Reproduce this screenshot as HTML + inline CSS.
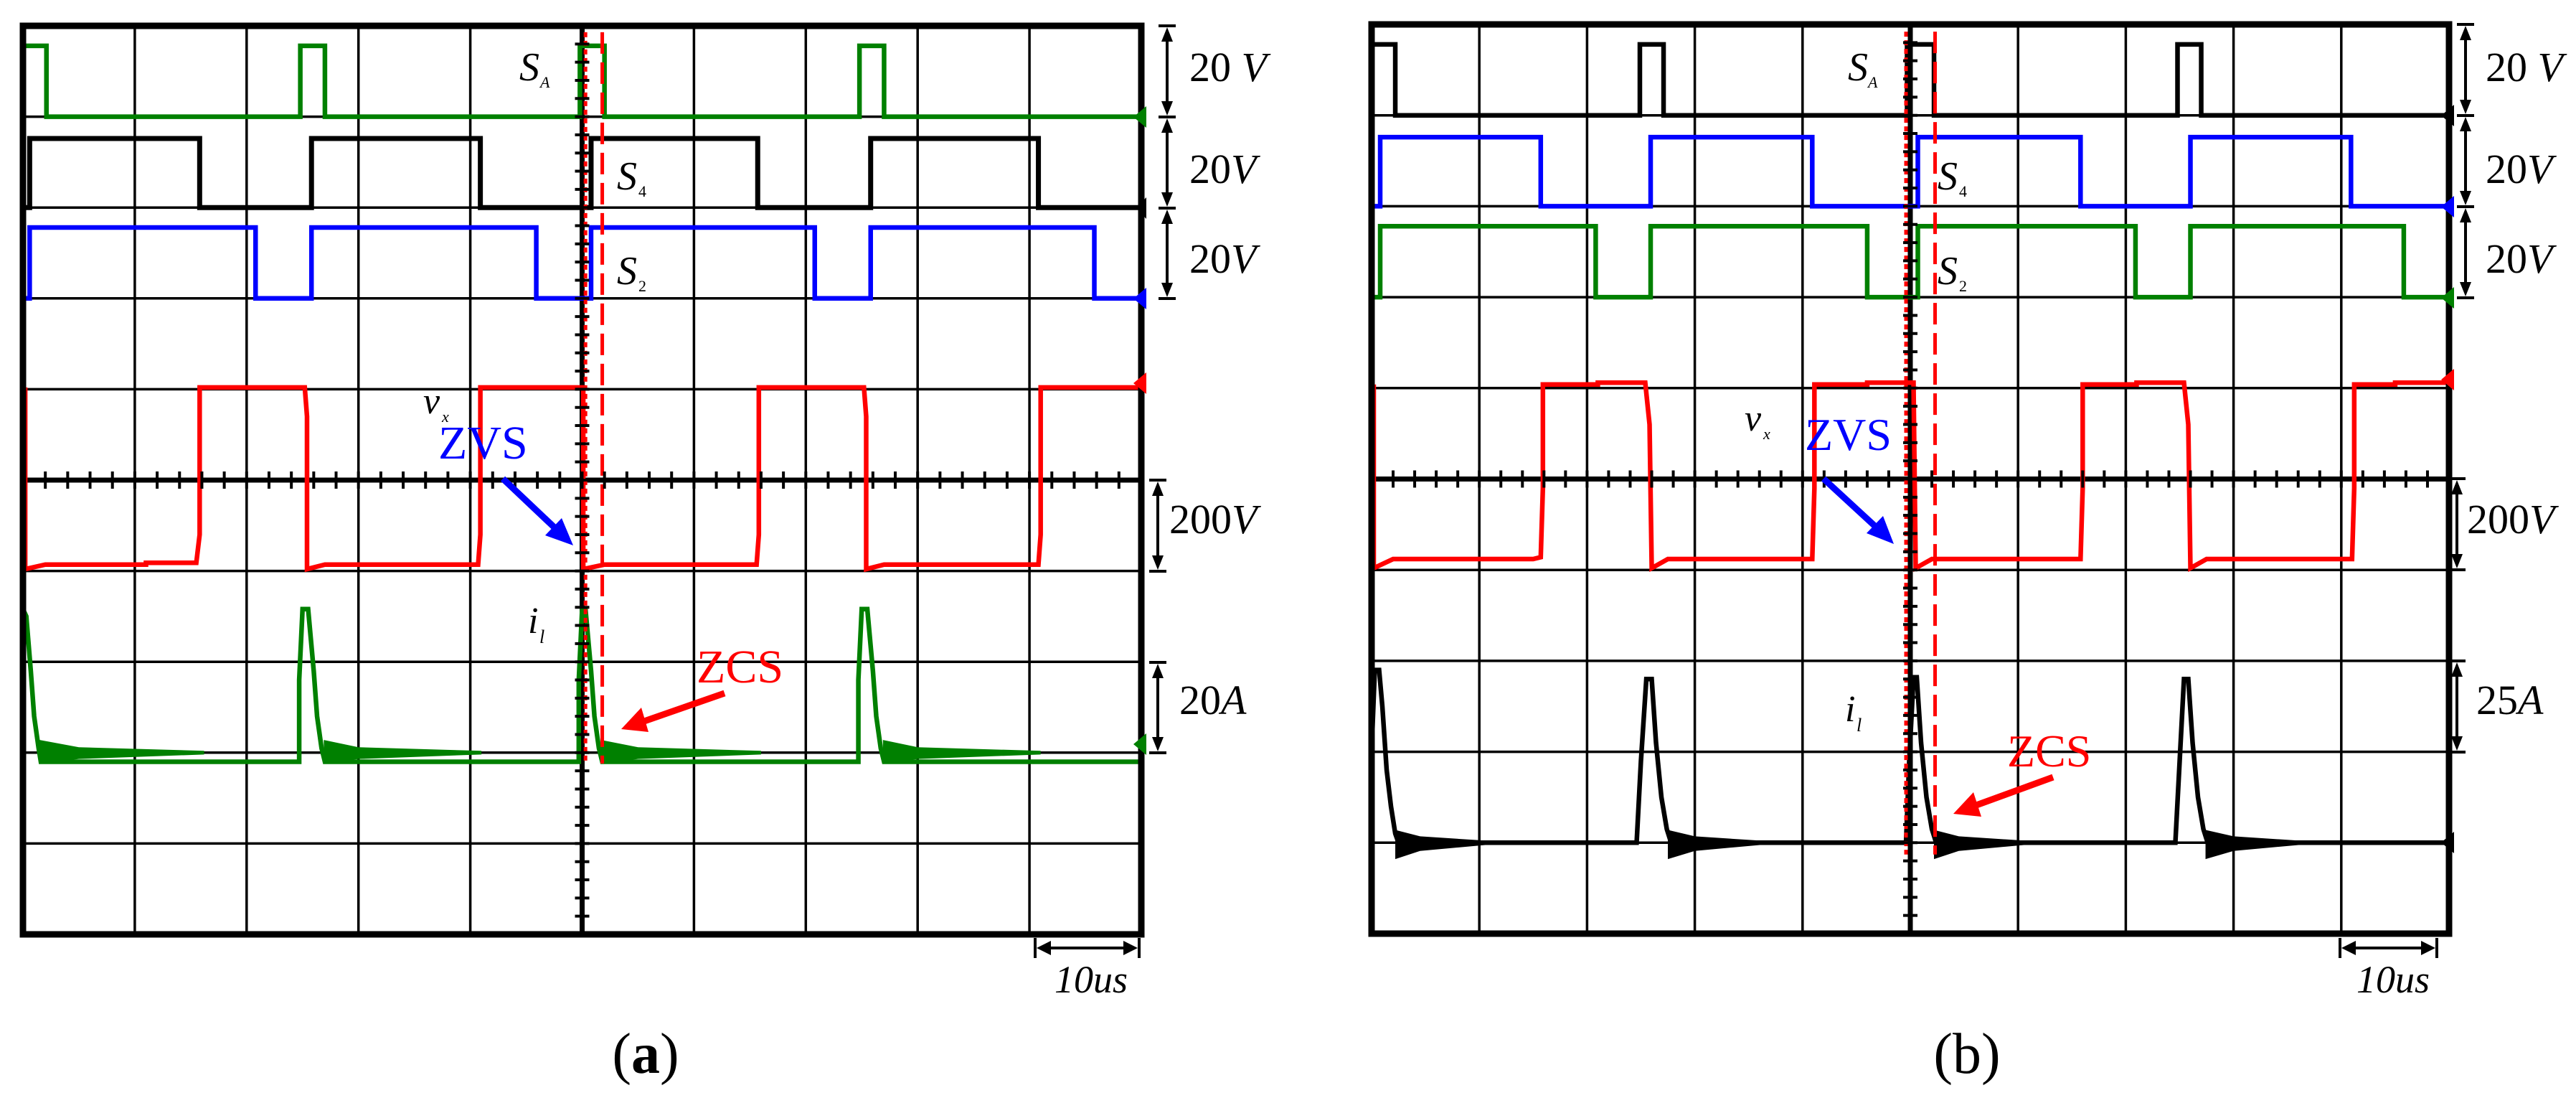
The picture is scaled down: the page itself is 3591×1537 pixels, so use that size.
<!DOCTYPE html>
<html><head><meta charset="utf-8"><style>
html,body{margin:0;padding:0;background:#fff;}
svg{display:block;font-family:"Liberation Serif","DejaVu Serif",serif;}
text{font-family:"Liberation Serif","DejaVu Serif",serif;}
</style></head><body>
<svg width="3591" height="1537" viewBox="0 0 3591 1537" xmlns="http://www.w3.org/2000/svg" font-family="Liberation Serif, DejaVu Serif, serif">

<!-- ================= PANEL A ================= -->
<g transform="translate(32,36) scale(155.9,126.6)" fill="none">
  <path vector-effect="non-scaling-stroke" stroke="#000" stroke-width="3.5" d="M1,0V10M2,0V10M3,0V10M4,0V10M6,0V10M7,0V10M8,0V10M9,0V10M0,1H10M0,2H10M0,3H10M0,4H10M0,6H10M0,7H10M0,8H10M0,9H10"/>
  <path vector-effect="non-scaling-stroke" stroke="#000" stroke-width="7" d="M5,0V10M0,5H10"/>
  <path vector-effect="non-scaling-stroke" stroke="#008000" stroke-width="6.5" d="M0,1V0.22H0.21V1H2.48V0.22H2.70V1H4.98V0.22H5.2V1H7.48V0.22H7.70V1H10"/>
  <path vector-effect="non-scaling-stroke" stroke="#000" stroke-width="7" d="M0,2H0.06V1.24H1.58V2H2.58V1.24H4.09V2H5.08V1.24H6.57V2H7.58V1.24H9.08V2H10"/>
  <path vector-effect="non-scaling-stroke" stroke="#0000ff" stroke-width="6.5" d="M0,3H0.06V2.22H2.08V3H2.58V2.22H4.59V3H5.08V2.22H7.08V3H7.58V2.22H9.58V3H10"/>
  <path vector-effect="non-scaling-stroke" stroke="#ff0000" stroke-width="6.5" d="M0.02,3.98V5.98L0.2,5.93H1.1V5.91H1.55L1.58,5.6V3.98H2.52L2.54,4.3V5.98L2.7,5.93H4.07L4.09,5.6V3.98H5.01V5.98L5.2,5.93H6.56L6.58,5.6V3.98H7.52L7.54,4.3V5.98L7.7,5.93H9.08L9.1,5.6V3.98H10"/>
  <path vector-effect="non-scaling-stroke" stroke="#008000" stroke-width="6.5" d="M0,7V6.42L0.03,6.5L0.07,7.1L0.1,7.6L0.14,7.95L0.16,8.1H2.47V7.2L2.5,6.42H2.55L2.6,7.1L2.63,7.6L2.67,7.95L2.7,8.1H4.97V7.2L5.0,6.42H5.03L5.08,7.1L5.11,7.6L5.15,7.95L5.18,8.1H7.47V7.2L7.5,6.42H7.55L7.6,7.1L7.63,7.6L7.67,7.95L7.7,8.1H10"/>
  <g fill="#008000">
    <polygon points="0.15,7.86 0.5,7.94 1.62,7.98 1.62,8.02 0.5,8.07 0.15,8.12"/>
    <polygon points="2.69,7.86 3.0,7.94 4.1,7.98 4.1,8.02 3.0,8.07 2.69,8.12"/>
    <polygon points="5.17,7.86 5.5,7.94 6.6,7.98 6.6,8.02 5.5,8.07 5.17,8.12"/>
    <polygon points="7.69,7.86 8.0,7.94 9.1,7.98 9.1,8.02 8.0,8.07 7.69,8.12"/>
  </g>
  <path vector-effect="non-scaling-stroke" stroke="#ff0000" stroke-width="5" stroke-dasharray="7 5" d="M5.03,0.07V8.12"/>
  <path vector-effect="non-scaling-stroke" stroke="#ff0000" stroke-width="5" stroke-dasharray="30 12" d="M5.18,0.07V8.12"/>
  <rect x="0" y="0" width="10" height="10" vector-effect="non-scaling-stroke" stroke="#000" stroke-width="9"/>
</g>
<line x1="32" y1="669" x2="1591" y2="669" stroke="#000" stroke-width="24" stroke-dasharray="4 27.18" stroke-dashoffset="2"/>
<line x1="811.5" y1="36" x2="811.5" y2="1302" stroke="#000" stroke-width="20" stroke-dasharray="4 21.32" stroke-dashoffset="2"/>
<g>
<polygon points="1598,148 1598,178 1580,163" fill="#008000"/>
<polygon points="1598,275 1598,305 1584,290" fill="#000"/>
<polygon points="1598,401 1598,431 1580,416" fill="#0000ff"/>
<polygon points="1598,519 1598,549 1580,534" fill="#ff0000"/>
<polygon points="1598,1022 1598,1052 1580,1037" fill="#008000"/>
</g>
<g font-style="italic" fill="#000">
<text x="724" y="112" font-size="56">S</text><text x="753" y="122" font-size="22">A</text>
<text x="860" y="264" font-size="56">S</text><text x="890" y="274" font-size="22" font-style="normal">4</text>
<text x="860" y="396" font-size="56">S</text><text x="890" y="406" font-size="22" font-style="normal">2</text>
<text x="590" y="576" font-size="52">v</text><text x="616" y="588" font-size="22">x</text>
<text x="736" y="882" font-size="52">i</text><text x="752" y="896" font-size="26">l</text>
</g>
<text x="611" y="639" font-size="66" fill="#0000ff">ZVS</text>
<text x="971" y="951" font-size="66" fill="#ff0000">ZCS</text>
<line x1="701" y1="667" x2="775" y2="737" stroke="#0000ff" stroke-width="9"/>
<polygon points="799,760 760,746 783,722" fill="#0000ff"/>
<line x1="1010" y1="966" x2="898" y2="1005" stroke="#ff0000" stroke-width="9"/>
<polygon points="866,1016 894,986 904,1020" fill="#ff0000"/>
<g stroke="#000" stroke-width="4">
<line x1="1627" y1="44" x2="1627" y2="155"/><line x1="1627" y1="171" x2="1627" y2="282"/><line x1="1627" y1="298" x2="1627" y2="408"/>
<line x1="1614" y1="677" x2="1614" y2="788"/><line x1="1614" y1="931" x2="1614" y2="1041"/>
<line x1="1615" y1="36" x2="1639" y2="36"/><line x1="1615" y1="163" x2="1639" y2="163"/><line x1="1615" y1="290" x2="1639" y2="290"/><line x1="1615" y1="416" x2="1639" y2="416"/>
<line x1="1602" y1="669" x2="1626" y2="669"/><line x1="1602" y1="796" x2="1626" y2="796"/><line x1="1602" y1="923" x2="1626" y2="923"/><line x1="1602" y1="1049" x2="1626" y2="1049"/>
</g>
<g fill="#000">
<polygon points="1627,38 1619,58 1635,58"/><polygon points="1627,161 1619,141 1635,141"/>
<polygon points="1627,165 1619,185 1635,185"/><polygon points="1627,288 1619,268 1635,268"/>
<polygon points="1627,292 1619,312 1635,312"/><polygon points="1627,414 1619,394 1635,394"/>
<polygon points="1614,671 1606,691 1622,691"/><polygon points="1614,794 1606,774 1622,774"/>
<polygon points="1614,925 1606,945 1622,945"/><polygon points="1614,1047 1606,1027 1622,1027"/>
</g>
<g font-size="58" fill="#000">
<text x="1658" y="113">20 <tspan font-style="italic">V</tspan></text>
<text x="1658" y="255">20<tspan font-style="italic">V</tspan></text>
<text x="1658" y="380">20<tspan font-style="italic">V</tspan></text>
<text x="1630" y="743">200<tspan font-style="italic">V</tspan></text>
<text x="1644" y="995">20<tspan font-style="italic">A</tspan></text>
</g>
<g stroke="#000" stroke-width="4">
<line x1="1450" y1="1321" x2="1581" y2="1321"/>
<line x1="1443" y1="1307" x2="1443" y2="1335"/><line x1="1588" y1="1307" x2="1588" y2="1335"/>
</g>
<polygon points="1445,1321 1465,1311 1465,1331" fill="#000"/>
<polygon points="1586,1321 1566,1311 1566,1331" fill="#000"/>
<text x="1470" y="1383" font-size="54" font-style="italic">10us</text>
<text x="900" y="1495" font-size="80" text-anchor="middle">(<tspan font-weight="bold">a</tspan>)</text>

<!-- ================= PANEL B ================= -->
<g transform="translate(1912,34) scale(150.2,126.7)" fill="none">
  <path vector-effect="non-scaling-stroke" stroke="#000" stroke-width="3.5" d="M1,0V10M2,0V10M3,0V10M4,0V10M6,0V10M7,0V10M8,0V10M9,0V10M0,1H10M0,2H10M0,3H10M0,4H10M0,6H10M0,7H10M0,8H10M0,9H10"/>
  <path vector-effect="non-scaling-stroke" stroke="#000" stroke-width="7" d="M5,0V10M0,5H10"/>
  <path vector-effect="non-scaling-stroke" stroke="#000" stroke-width="6.5" d="M0,1V0.22H0.22V1H2.49V0.22H2.71V1H4.97V0.22H5.22V1H7.48V0.22H7.70V1H10"/>
  <path vector-effect="non-scaling-stroke" stroke="#0000ff" stroke-width="6.5" d="M0,2H0.08V1.24H1.57V2H2.59V1.24H4.09V2H5.07V1.24H6.58V2H7.6V1.24H9.09V2H10"/>
  <path vector-effect="non-scaling-stroke" stroke="#008000" stroke-width="6.5" d="M0,3H0.08V2.22H2.08V3H2.59V2.22H4.6V3H5.07V2.22H7.09V3H7.6V2.22H9.58V3H10"/>
  <path vector-effect="non-scaling-stroke" stroke="#ff0000" stroke-width="6.5" d="M0.02,3.96V5.98L0.2,5.88H1.5L1.57,5.86L1.59,5.1V3.96H2.1V3.94H2.54L2.58,4.4L2.6,5.98L2.75,5.88H4.09L4.11,5.1V3.96H4.6V3.94H5.03L5.05,5.98L5.2,5.88H6.58L6.6,5.1V3.96H7.1V3.94H7.54L7.58,4.4L7.6,5.98L7.75,5.88H9.1L9.12,5.1V3.96H9.5V3.94H10"/>
  <path vector-effect="non-scaling-stroke" stroke="#000" stroke-width="6.5" d="M0,8.0L0.03,7.1H0.07L0.1,7.5L0.14,8.2L0.18,8.6L0.22,8.9L0.25,9.0H2.46L2.5,8.1L2.55,7.2H2.6L2.64,7.9L2.69,8.5L2.74,8.85L2.78,9.0H4.96L4.99,8.1L5.03,7.18H5.06L5.1,7.9L5.15,8.5L5.2,8.85L5.24,9.0H7.46L7.5,8.1L7.54,7.2H7.58L7.62,7.9L7.67,8.5L7.72,8.85L7.76,9.0H10"/>
  <g fill="#000">
    <polygon points="0.22,8.86 0.45,8.93 1.1,8.98 1.1,9.02 0.45,9.09 0.22,9.18"/>
    <polygon points="2.75,8.86 3.0,8.93 3.65,8.98 3.65,9.02 3.0,9.09 2.75,9.18"/>
    <polygon points="5.22,8.86 5.45,8.93 6.1,8.98 6.1,9.02 5.45,9.09 5.22,9.18"/>
    <polygon points="7.74,8.86 8.0,8.93 8.65,8.98 8.65,9.02 8.0,9.09 7.74,9.18"/>
  </g>
  <path vector-effect="non-scaling-stroke" stroke="#ff0000" stroke-width="5" stroke-dasharray="7 5" d="M4.96,0.08V9.13"/>
  <path vector-effect="non-scaling-stroke" stroke="#ff0000" stroke-width="5" stroke-dasharray="30 12" d="M5.23,0.08V9.13"/>
  <rect x="0" y="0" width="10" height="10" vector-effect="non-scaling-stroke" stroke="#000" stroke-width="9"/>
</g>
<line x1="1912" y1="667.5" x2="3414" y2="667.5" stroke="#000" stroke-width="24" stroke-dasharray="4 26.04" stroke-dashoffset="2"/>
<line x1="2663" y1="34" x2="2663" y2="1301" stroke="#000" stroke-width="20" stroke-dasharray="4 21.34" stroke-dashoffset="2"/>
<g>
<polygon points="3421,146 3421,176 3403,161" fill="#000"/>
<polygon points="3421,273 3421,303 3403,288" fill="#0000ff"/>
<polygon points="3421,400 3421,430 3403,415" fill="#008000"/>
<polygon points="3421,514 3421,544 3403,529" fill="#ff0000"/>
<polygon points="3421,1159 3421,1189 3403,1174" fill="#000"/>
</g>
<g font-style="italic" fill="#000">
<text x="2576" y="112" font-size="56">S</text><text x="2604" y="122" font-size="22">A</text>
<text x="2701" y="264" font-size="56">S</text><text x="2731" y="274" font-size="22" font-style="normal">4</text>
<text x="2701" y="396" font-size="56">S</text><text x="2731" y="406" font-size="22" font-style="normal">2</text>
<text x="2432" y="600" font-size="52">v</text><text x="2458" y="612" font-size="22">x</text>
<text x="2572" y="1005" font-size="52">i</text><text x="2588" y="1019" font-size="26">l</text>
</g>
<text x="2516" y="627" font-size="64" fill="#0000ff">ZVS</text>
<text x="2798" y="1068" font-size="64" fill="#ff0000">ZCS</text>
<line x1="2542" y1="667" x2="2618" y2="737" stroke="#0000ff" stroke-width="9"/>
<polygon points="2640,758 2602,743 2625,719" fill="#0000ff"/>
<line x1="2862" y1="1083" x2="2755" y2="1122" stroke="#ff0000" stroke-width="9"/>
<polygon points="2723,1134 2751,1104 2762,1138" fill="#ff0000"/>
<g stroke="#000" stroke-width="4">
<line x1="3437" y1="42" x2="3437" y2="153"/><line x1="3437" y1="169" x2="3437" y2="280"/><line x1="3437" y1="296" x2="3437" y2="407"/>
<line x1="3425" y1="675" x2="3425" y2="786"/><line x1="3425" y1="929" x2="3425" y2="1040"/>
<line x1="3425" y1="34" x2="3449" y2="34"/><line x1="3425" y1="161" x2="3449" y2="161"/><line x1="3425" y1="288" x2="3449" y2="288"/><line x1="3425" y1="415" x2="3449" y2="415"/>
<line x1="3413" y1="667" x2="3437" y2="667"/><line x1="3413" y1="794" x2="3437" y2="794"/><line x1="3413" y1="921" x2="3437" y2="921"/><line x1="3413" y1="1048" x2="3437" y2="1048"/>
</g>
<g fill="#000">
<polygon points="3437,36 3429,56 3445,56"/><polygon points="3437,159 3429,139 3445,139"/>
<polygon points="3437,163 3429,183 3445,183"/><polygon points="3437,286 3429,266 3445,266"/>
<polygon points="3437,290 3429,310 3445,310"/><polygon points="3437,413 3429,393 3445,393"/>
<polygon points="3425,669 3417,689 3433,689"/><polygon points="3425,792 3417,772 3433,772"/>
<polygon points="3425,923 3417,943 3433,943"/><polygon points="3425,1046 3417,1026 3433,1026"/>
</g>
<g font-size="58" fill="#000">
<text x="3465" y="113">20 <tspan font-style="italic">V</tspan></text>
<text x="3465" y="255">20<tspan font-style="italic">V</tspan></text>
<text x="3465" y="380">20<tspan font-style="italic">V</tspan></text>
<text x="3439" y="743">200<tspan font-style="italic">V</tspan></text>
<text x="3452" y="995">25<tspan font-style="italic">A</tspan></text>
</g>
<g stroke="#000" stroke-width="4">
<line x1="3269" y1="1321" x2="3390" y2="1321"/>
<line x1="3262" y1="1307" x2="3262" y2="1335"/><line x1="3397" y1="1307" x2="3397" y2="1335"/>
</g>
<polygon points="3264,1321 3284,1311 3284,1331" fill="#000"/>
<polygon points="3395,1321 3375,1311 3375,1331" fill="#000"/>
<text x="3285" y="1383" font-size="54" font-style="italic">10us</text>
<text x="2742" y="1495" font-size="80" text-anchor="middle">(b)</text>
</svg>
</body></html>
